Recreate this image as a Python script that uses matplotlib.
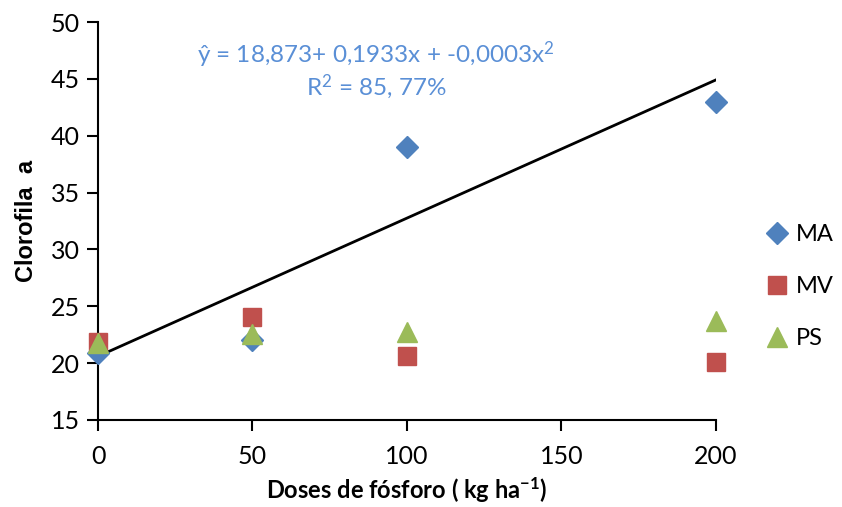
import numpy as np
import matplotlib
matplotlib.use('Agg')
import matplotlib.pyplot as plt

doses = [0, 50, 100, 200]
ma = [20.9, 22.0, 39.0, 43.0]
mv = [21.9, 24.1, 20.6, 20.1]
ps = [21.8, 22.6, 22.7, 23.7]

# trend line as drawn in the reference
trend_x = [0, 200]
trend_y = [20.6, 44.9]

eq_text = 'ŷ = 18,873+ 0,1933x + -0,0003x$^{\\mathregular{2}}$\nR$^{\\mathregular{2}}$ = 85, 77%'

plt.rcParams['font.family'] = ['Lato', 'DejaVu Sans']
plt.rcParams['mathtext.default'] = 'regular'

fig = plt.figure(figsize=(8.42, 5.07), dpi=100)
ax = fig.add_axes([0.1164, 0.1716, 0.7336, 0.785])

ax.plot(trend_x, trend_y, c='k', lw=2, zorder=2)
ax.plot(doses, ma, ls='none', marker='D', ms=11, c='#4F81BD', label='MA', clip_on=False, zorder=3)
ax.plot(doses, mv, ls='none', marker='s', ms=13, c='#C0504D', label='MV', clip_on=False, zorder=4)
ax.plot(doses, ps, ls='none', marker='^', ms=15, c='#9BBB59', label='PS', clip_on=False, zorder=5)

ax.set_xlim(0, 200)
ax.set_ylim(15, 50)
ax.set_xticks([0, 50, 100, 150, 200])
ax.set_yticks(np.arange(15, 51, 5))
ax.spines['top'].set_visible(False)
ax.spines['right'].set_visible(False)
ax.spines['left'].set_linewidth(1.5)
ax.spines['bottom'].set_linewidth(1.5)
ax.tick_params(direction='out', length=8, width=1.5, labelsize=18, pad=5)
ax.tick_params(axis='x', pad=10)

ax.set_xlabel('Doses de fósforo ( kg ha$^{\\mathregular{-1}}$)', fontsize=17, fontweight='bold', labelpad=5)
ax.set_ylabel('Clorofila  a', fontsize=17, fontweight='bold', family='Liberation Sans', labelpad=9)

ax.text(0.45, 0.955, eq_text, transform=ax.transAxes, ha='center', va='top',
        fontsize=17.5, color='#5A8FD6', linespacing=1.1)

ax.legend(loc='center left', bbox_to_anchor=(1.04, 0.335), frameon=False, fontsize=17,
          handletextpad=0.05, labelspacing=1.3, handlelength=1.5, borderaxespad=0.4)

plt.savefig('out.png', dpi=100)
